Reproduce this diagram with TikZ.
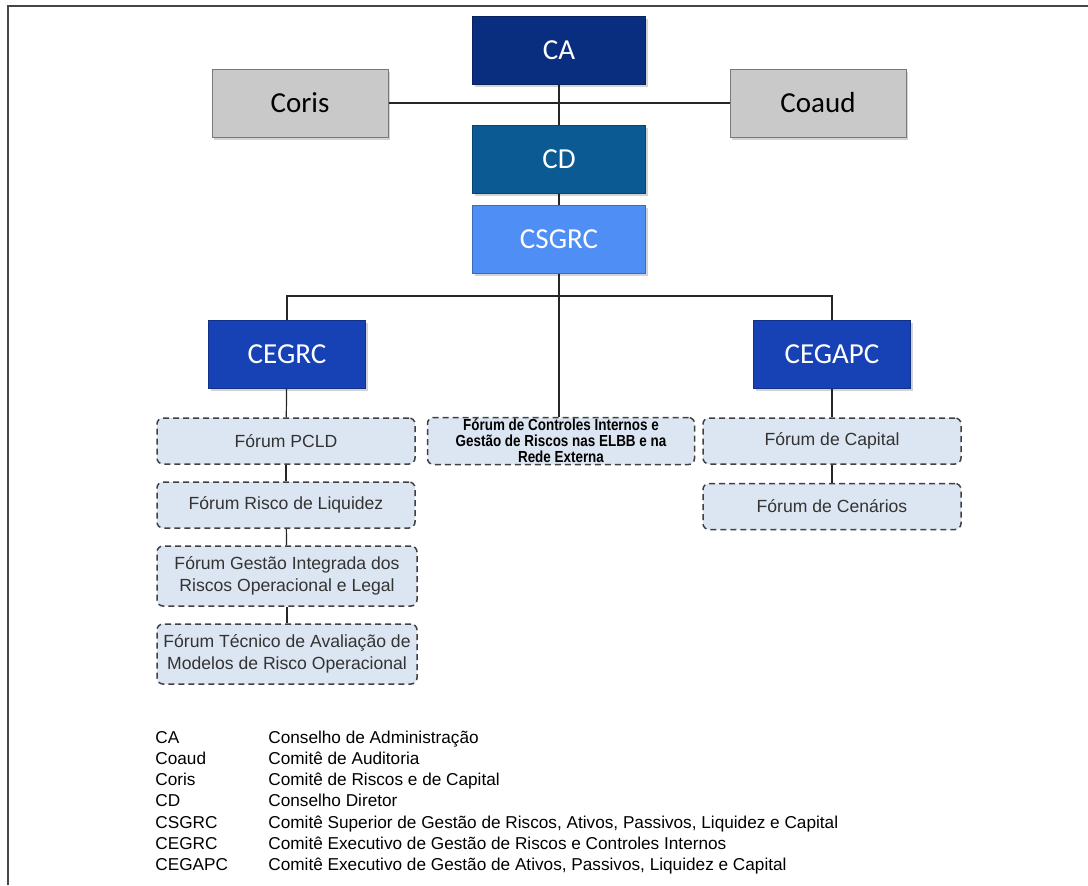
\documentclass[tikz,border=0pt]{standalone}
\usepackage{fontspec}
\setmainfont{Liberation Sans}
\newfontfamily\boxfont{Carlito}
\newfontfamily\narrowfont[FakeStretch=0.84]{Liberation Sans}
\usepackage{xcolor}
\usetikzlibrary{positioning, shadows}
\definecolor{caBlue}{HTML}{0A2E7F}
\definecolor{cdBlue}{HTML}{0B5A94}
\definecolor{sgBlue}{HTML}{4F8EF5}
\definecolor{exBlue}{HTML}{1742B5}
\definecolor{coGray}{HTML}{C9C9C9}
\definecolor{foFill}{HTML}{DCE6F2}
\definecolor{foLine}{HTML}{404040}

\begin{document}
\begin{tikzpicture}[
  x=0.5pt, y=-0.5pt,
  comite/.style  = {draw, line width=0.5pt, minimum width=86.5pt,
                    minimum height=34pt, inner sep=0pt, align=center,
                    font=\boxfont\fontsize{14.5}{16}\selectfont, text=white,
                    drop shadow={shadow xshift=1.2pt, shadow yshift=-1.5pt, opacity=0.35}},
  caBox/.style   = {comite, fill=caBlue, draw=caBlue!75!black},
  cdBox/.style   = {comite, fill=cdBlue, draw=cdBlue!75!black},
  sgBox/.style   = {comite, fill=sgBlue, draw=sgBlue!75!black},
  exBox/.style   = {comite, fill=exBlue, draw=exBlue!75!black, minimum width=78.5pt},
  coBox/.style   = {comite, fill=coGray, draw=coGray!60!black, text=black, minimum width=88pt},
  forum/.style   = {draw=foLine, fill=foFill, dashed, dash pattern=on 3pt off 2pt,
                    line width=0.75pt, rounded corners=3pt, minimum width=129pt,
                    minimum height=23pt, inner sep=0pt, align=center, text=black!80,
                    font=\fontsize{8.8}{11}\selectfont},
  forumdois/.style = {forum, minimum width=130pt, minimum height=30pt},
  forummeio/.style = {forum, minimum width=133.5pt, minimum height=23.5pt, text=black,
                    font=\narrowfont\bfseries\fontsize{8}{8}\selectfont},
  liga/.style    = {draw=black!85, line width=0.6pt},
]
  \useasboundingbox (0,0) rectangle (1088,885);
  \draw[line width=1pt, gray!55!black] (8,885) -- (8,6) -- (1088,6);

  % topo
  \node[caBox] (ca)    at (559,50)  {CA};
  \node[coBox] (coris) at (300,103) {Coris};
  \node[coBox] (coaud) at (818,103) {Coaud};
  \node[cdBox] (cd)    at (559,159) {CD};
  \node[sgBox] (csgrc) at (559,239) {CSGRC};

  % comites executivos
  \node[exBox] (cegrc)  at (287,354) {CEGRC};
  \node[exBox] (cegapc) at (832,354) {CEGAPC};

  % foruns
  \node[forum]     (pcld)  at (286,441) {Fórum PCLD};
  \node[forum]     (liq)   at (286,505) {Fórum Risco de Liquidez};
  \node[forumdois] (gir)   at (287,576) {Fórum Gestão Integrada dos\\ Riscos Operacional e Legal};
  \node[forumdois] (tec)   at (287,654) {Fórum Técnico de Avaliação de\\ Modelos de Risco Operacional};
  \node[forummeio] (fci)   at (561,441) {Fórum de Controles Internos e\\ Gestão de Riscos nas ELBB e na\\ Rede Externa};
  \node[forum]     (cap)   at (832,441) {Fórum de Capital};
  \node[forum, below=9pt of cap] (cen) {Fórum de Cenários};

  \coordinate (bus) at (559,296);

  \draw[liga] (coris.east) -- (coaud.west);
  \draw[liga] (ca) -- (cd);
  \draw[liga] (cd) -- (csgrc);
  \draw[liga] (cegrc.north) |- (bus) -| (cegapc.north);
  \draw[liga, line width=0.9pt] (csgrc.south) -- (csgrc.south |- fci.north);
  \draw[liga] (cegrc) -- (pcld);
  \draw[liga] (pcld) -- (liq);
  \draw[liga] (liq) -- (gir);
  \draw[liga] (gir) -- (tec);
  \draw[liga] (cegapc) -- (cap);
  \draw[liga] (cap) -- (cen);

  % legenda
  \node[anchor=north west, inner sep=0pt, font=\fontsize{8.6}{10.6}\selectfont] (legenda) at (155,728) {%
    \begin{tabular}{@{}p{56.5pt}@{}l@{}}
      CA     & Conselho de Administração\\
      Coaud  & Comitê de Auditoria\\
      Coris  & Comitê de Riscos e de Capital\\
      CD     & Conselho Diretor\\
      CSGRC  & Comitê Superior de Gestão de Riscos, Ativos, Passivos, Liquidez e Capital\\
      CEGRC  & Comitê Executivo de Gestão de Riscos e Controles Internos\\
      CEGAPC & Comitê Executivo de Gestão de Ativos, Passivos, Liquidez e Capital
    \end{tabular}};
\end{tikzpicture}
\end{document}
